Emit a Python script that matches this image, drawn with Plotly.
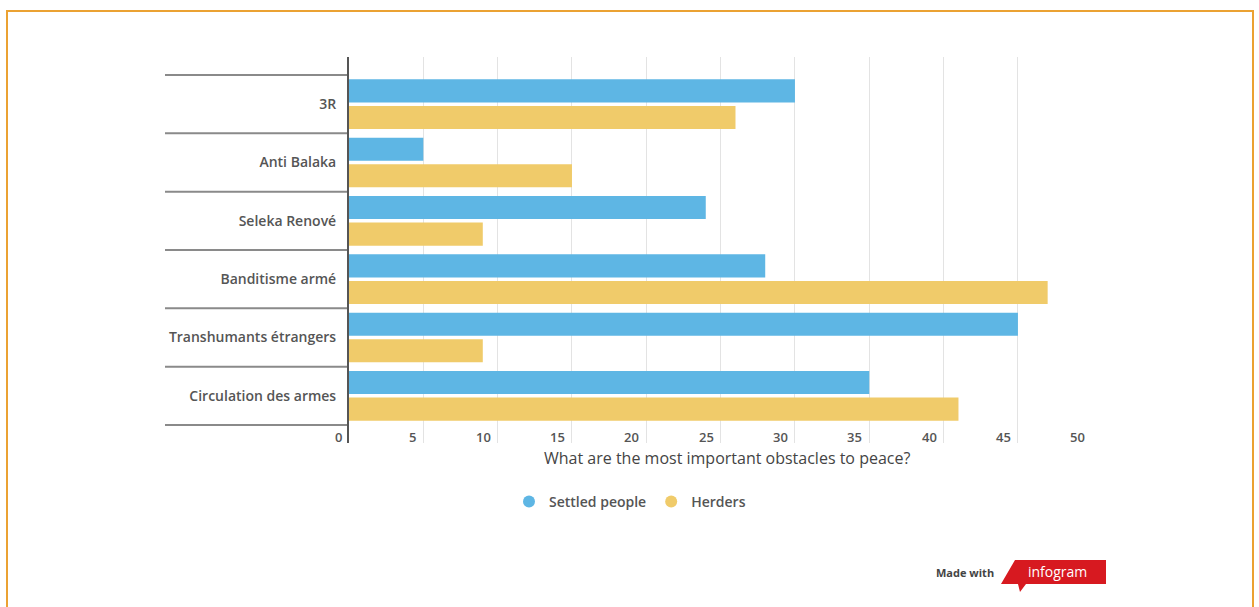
import plotly.graph_objects as go

categories = ["3R", "Anti Balaka", "Seleka Renové", "Banditisme armé",
              "Transhumants étrangers", "Circulation des armes"]
settled = [30, 5, 24, 28, 45, 35]
herders = [26, 15, 9, 47, 9, 41]
series_names = ["Settled people", "Herders"]
x_ticks = [0, 5, 10, 15, 20, 25, 30, 35, 40, 45, 50]
x_title = "What are the most important obstacles to peace?"

BLUE = "#5EB6E4"
YELLOW = "#F0CB6A"
FONT = "Open Sans"
W, H = 1259, 607
L, R, T, B = 349, 1093, 57, 443
pw, ph = R - L, B - T


def px(x):
    return (x - L) / pw


def py(y):
    return (B - y) / ph


fig = go.Figure()
fig.add_trace(go.Bar(y=categories, x=settled, name=series_names[0], orientation="h",
                     marker=dict(color=BLUE, line=dict(width=0)), showlegend=False))
fig.add_trace(go.Bar(y=categories, x=herders, name=series_names[1], orientation="h",
                     marker=dict(color=YELLOW, line=dict(width=0)), showlegend=False))
# legend entries with round markers
for nm, c in zip(series_names, [BLUE, YELLOW]):
    fig.add_trace(go.Scatter(x=[None], y=[None], mode="markers", name=nm,
                             marker=dict(color=c, size=17, symbol="circle")))

pad = 18 / ((B - T - 36) / 6)
shapes = []
# category separators in label area
for i in range(len(categories) + 1):
    shapes.append(dict(type="line", xref="paper", yref="y",
                       x0=px(165), x1=0, y0=i - 0.5, y1=i - 0.5,
                       line=dict(color="#8a8a8a", width=2), layer="below"))
# orange frame
shapes.append(dict(type="rect", xref="paper", yref="paper",
                   x0=px(7), x1=px(1253), y0=py(11), y1=py(640),
                   line=dict(color="#EBA232", width=2), fillcolor="rgba(0,0,0,0)"))
# infogram banner
pts = [(1015, 560), (1106, 560), (1106, 584), (1026, 584), (1020, 592), (1018, 584), (1001, 584)]
path = "M " + " L ".join(f"{px(a):.5f},{py(b):.5f}" for a, b in pts) + " Z"
shapes.append(dict(type="path", xref="paper", yref="paper", path=path,
                   fillcolor="#D71920", line=dict(width=0)))

tickfont = dict(size=13, color="#555", family=FONT, weight=600)
annotations = [
    dict(text=x_title, xref="paper", yref="paper", x=px(727), y=py(458),
         showarrow=False, xanchor="center", yanchor="middle",
         font=dict(size=16, color="#444", family=FONT)),
    dict(text="Made with", xref="paper", yref="paper", x=px(965), y=py(572),
         showarrow=False, xanchor="center", yanchor="middle",
         font=dict(size=11, color="#444", family=FONT, weight="bold")),
    dict(text="infogram", xref="paper", yref="paper", x=px(1057), y=py(571),
         showarrow=False, xanchor="center", yanchor="middle",
         font=dict(size=14, color="white", family=FONT)),
]
for t in x_ticks:
    annotations.append(dict(text=str(t), xref="x", yref="paper", x=t, y=py(437),
                            showarrow=False, xanchor="right", yanchor="middle",
                            xshift=-5, font=tickfont))

fig.update_layout(
    width=W, height=H,
    margin=dict(l=L, r=W - R, t=T, b=H - B),
    paper_bgcolor="white", plot_bgcolor="white",
    barmode="group", bargap=0.09, bargroupgap=0.13,
    font=dict(family=FONT, color="#555"),
    shapes=shapes, annotations=annotations,
    legend=dict(orientation="h", x=px(630), y=py(502), xanchor="center", yanchor="middle",
                font=dict(size=14, color="#555", family=FONT, weight=600),
                itemsizing="constant", itemwidth=30, tracegroupgap=0),
    xaxis=dict(range=[0, 50.05], tickvals=x_ticks, showgrid=True, gridcolor="#e3e3e3",
               gridwidth=1, zeroline=False, showline=False, showticklabels=False,
               fixedrange=True),
    yaxis=dict(categoryorder="array", categoryarray=categories,
               range=[len(categories) - 0.5 + pad, -0.5 - pad],
               showline=True, linecolor="#555", linewidth=2, showgrid=False,
               zeroline=False, ticks="", ticklabelstandoff=8,
               tickfont=dict(size=14, color="#555", family=FONT, weight=600)),
)

fig.write_html("out.html", config={"displayModeBar": False},
               post_script="document.body.style.margin='0px';document.body.style.overflow='hidden';")
